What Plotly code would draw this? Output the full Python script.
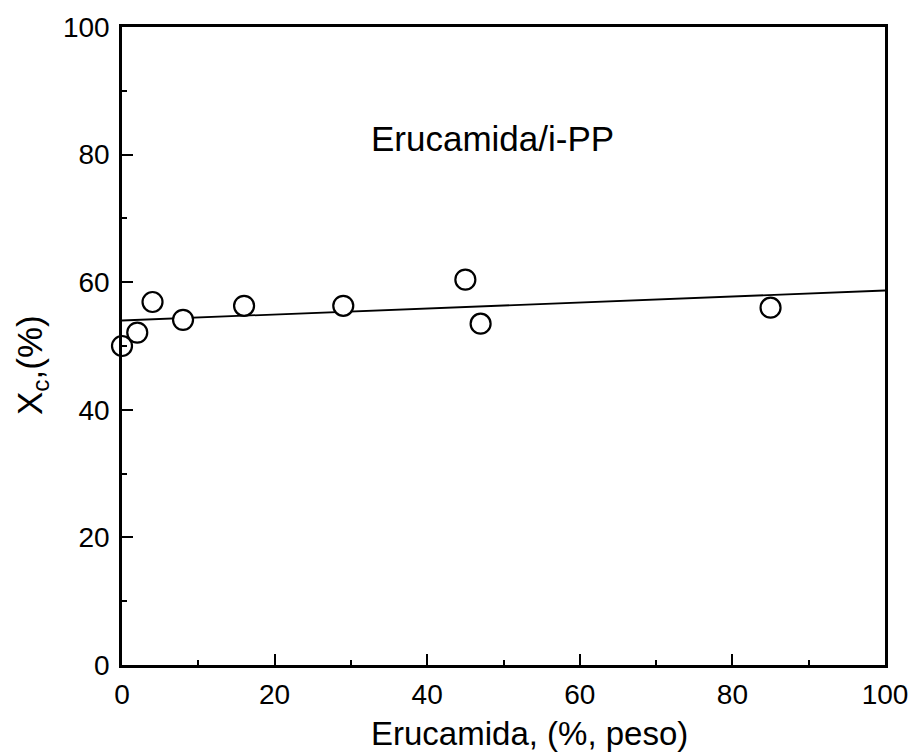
import plotly.graph_objects as go

# Crystallinity of i-PP vs erucamide content
erucamida = [0, 2, 4, 8, 16, 29, 45, 47, 85]
xc = [50.0, 52.1, 56.9, 54.1, 56.3, 56.3, 60.4, 53.5, 56.0]

# Linear fit drawn across the full axis range
fit_x = [0, 100]
fit_y = [54.0, 58.7]

x_ticks = [0, 20, 40, 60, 80, 100]
y_ticks = [0, 20, 40, 60, 80, 100]

FONT = "Liberation Sans, Arial, Helvetica, sans-serif"

fig = go.Figure()
fig.add_trace(go.Scatter(
    x=fit_x, y=fit_y, mode="lines",
    line=dict(color="black", width=1.8),
    showlegend=False, hoverinfo="skip",
))
fig.add_trace(go.Scatter(
    x=erucamida, y=xc, mode="markers",
    marker=dict(symbol="circle", size=20, color="white",
                line=dict(color="black", width=2.2)),
    showlegend=False,
    cliponaxis=False,
))

axis_common = dict(
    showgrid=False, zeroline=False,
    showline=True, linecolor="black", linewidth=2.5, mirror=True,
    ticks="inside", ticklen=11, tickwidth=2, tickcolor="black",
    minor=dict(ticks="inside", ticklen=5, tickwidth=1.5, tickcolor="black", dtick=10),
    tickfont=dict(family=FONT, size=28, color="black"),
)

fig.update_xaxes(
    range=[0, 100], tickvals=x_ticks, ticktext=[str(v) for v in x_ticks],
    ticklabelstandoff=3,
    **axis_common,
)
fig.update_yaxes(
    range=[0, 100], tickvals=y_ticks, ticktext=[str(v) for v in y_ticks],
    ticklabelstandoff=4,
    **axis_common,
)

# Axis titles
fig.add_annotation(
    x=0.534, y=-0.108, xref="paper", yref="paper",
    xanchor="center", yanchor="middle",
    text="Erucamida, (%, peso)", showarrow=False,
    font=dict(family=FONT, size=33, color="black"),
)
fig.add_annotation(
    x=-0.118, y=0.47, xref="paper", yref="paper",
    xanchor="center", yanchor="middle", textangle=-90,
    text="X<sub>c</sub>,(%)", showarrow=False,
    font=dict(family=FONT, size=35, color="black"),
)

# In-plot label
fig.add_annotation(
    x=0.486, y=0.826, xref="paper", yref="paper",
    xanchor="center", yanchor="middle",
    text="Erucamida/i-PP", showarrow=False,
    font=dict(family=FONT, size=35, color="black"),
)

fig.update_layout(
    width=920, height=752,
    margin=dict(l=122, r=32, t=27, b=87),
    plot_bgcolor="white", paper_bgcolor="white",
)

fig.write_html("out.html")
